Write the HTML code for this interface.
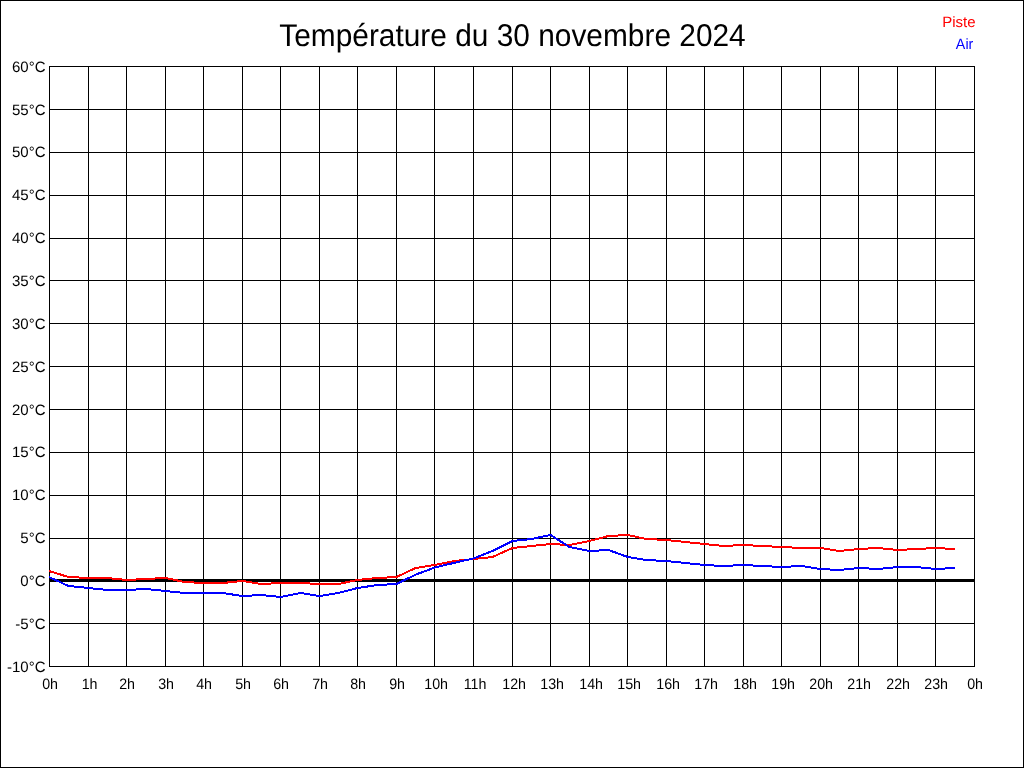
<!DOCTYPE html>
<html><head><meta charset="utf-8"><title>Température du 30 novembre 2024</title>
<style>
html,body{margin:0;padding:0;background:#fff;}
body{width:1024px;height:768px;overflow:hidden;}
svg{display:block;will-change:transform;}
text{font-family:"Liberation Sans",Arial,sans-serif;text-rendering:geometricPrecision;}
</style></head><body>
<svg width="1024" height="768" viewBox="0 0 1024 768">
<rect x="0" y="0" width="1024" height="768" fill="#fff"/>
<rect x="0.5" y="0.5" width="1023" height="767" fill="none" stroke="#000" stroke-width="1"/>
<text transform="translate(512.5,46) scale(0.979,1.03)" text-anchor="middle" font-size="30.5" fill="#000">Température du 30 novembre 2024</text>
<text transform="translate(975.6,27) scale(1,1)" text-anchor="end" font-size="15.0" fill="#f00">Piste</text>
<text transform="translate(973.3,49) scale(0.95,1)" text-anchor="end" font-size="15.0" fill="#00f">Air</text>
<g fill="#000" shape-rendering="crispEdges">
<rect x="49" y="66" width="926" height="1"/>
<rect x="49" y="109" width="926" height="1"/>
<rect x="49" y="152" width="926" height="1"/>
<rect x="49" y="195" width="926" height="1"/>
<rect x="49" y="238" width="926" height="1"/>
<rect x="49" y="280" width="926" height="1"/>
<rect x="49" y="323" width="926" height="1"/>
<rect x="49" y="366" width="926" height="1"/>
<rect x="49" y="409" width="926" height="1"/>
<rect x="49" y="452" width="926" height="1"/>
<rect x="49" y="495" width="926" height="1"/>
<rect x="49" y="538" width="926" height="1"/>
<rect x="49" y="623" width="926" height="1"/>
<rect x="49" y="666" width="926" height="1"/>
<rect x="49" y="66" width="1" height="601"/>
<rect x="88" y="66" width="1" height="601"/>
<rect x="126" y="66" width="1" height="601"/>
<rect x="165" y="66" width="1" height="601"/>
<rect x="203" y="66" width="1" height="601"/>
<rect x="242" y="66" width="1" height="601"/>
<rect x="280" y="66" width="1" height="601"/>
<rect x="319" y="66" width="1" height="601"/>
<rect x="357" y="66" width="1" height="601"/>
<rect x="396" y="66" width="1" height="601"/>
<rect x="434" y="66" width="1" height="601"/>
<rect x="473" y="66" width="1" height="601"/>
<rect x="512" y="66" width="1" height="601"/>
<rect x="550" y="66" width="1" height="601"/>
<rect x="589" y="66" width="1" height="601"/>
<rect x="627" y="66" width="1" height="601"/>
<rect x="666" y="66" width="1" height="601"/>
<rect x="704" y="66" width="1" height="601"/>
<rect x="743" y="66" width="1" height="601"/>
<rect x="781" y="66" width="1" height="601"/>
<rect x="820" y="66" width="1" height="601"/>
<rect x="858" y="66" width="1" height="601"/>
<rect x="897" y="66" width="1" height="601"/>
<rect x="935" y="66" width="1" height="601"/>
<rect x="974" y="66" width="1" height="601"/>
<rect x="49" y="579" width="926" height="3"/>
</g>
<g font-size="15" fill="#000">
<text transform="translate(45.5,71.6) scale(1.0,1.0)" text-anchor="end">60°C</text>
<text transform="translate(45.5,114.6) scale(1.0,1.0)" text-anchor="end">55°C</text>
<text transform="translate(45.5,156.6) scale(1.0,1.0)" text-anchor="end">50°C</text>
<text transform="translate(45.5,199.6) scale(1.0,1.0)" text-anchor="end">45°C</text>
<text transform="translate(45.5,242.6) scale(1.0,1.0)" text-anchor="end">40°C</text>
<text transform="translate(45.5,285.6) scale(1.0,1.0)" text-anchor="end">35°C</text>
<text transform="translate(45.5,328.6) scale(1.0,1.0)" text-anchor="end">30°C</text>
<text transform="translate(45.5,371.6) scale(1.0,1.0)" text-anchor="end">25°C</text>
<text transform="translate(45.5,414.6) scale(1.0,1.0)" text-anchor="end">20°C</text>
<text transform="translate(45.5,456.6) scale(1.0,1.0)" text-anchor="end">15°C</text>
<text transform="translate(45.5,499.6) scale(1.0,1.0)" text-anchor="end">10°C</text>
<text transform="translate(45.5,542.6) scale(1.0,1.0)" text-anchor="end">5°C</text>
<text transform="translate(45.5,585.6) scale(1.0,1.0)" text-anchor="end">0°C</text>
<text transform="translate(45.5,628.6) scale(1.0,1.0)" text-anchor="end">-5°C</text>
<text transform="translate(45.5,671.6) scale(1.0,1.0)" text-anchor="end">-10°C</text>
<text transform="translate(50.1,689) scale(0.95,1.0)" text-anchor="middle">0h</text>
<text transform="translate(89.6,689) scale(0.95,1.0)" text-anchor="middle">1h</text>
<text transform="translate(127.1,689) scale(0.95,1.0)" text-anchor="middle">2h</text>
<text transform="translate(166.1,689) scale(0.95,1.0)" text-anchor="middle">3h</text>
<text transform="translate(204.1,689) scale(0.95,1.0)" text-anchor="middle">4h</text>
<text transform="translate(243.1,689) scale(0.95,1.0)" text-anchor="middle">5h</text>
<text transform="translate(281.1,689) scale(0.95,1.0)" text-anchor="middle">6h</text>
<text transform="translate(320.1,689) scale(0.95,1.0)" text-anchor="middle">7h</text>
<text transform="translate(358.1,689) scale(0.95,1.0)" text-anchor="middle">8h</text>
<text transform="translate(397.1,689) scale(0.95,1.0)" text-anchor="middle">9h</text>
<text transform="translate(436.1,689) scale(0.95,1.0)" text-anchor="middle">10h</text>
<text transform="translate(475.1,689) scale(0.95,1.0)" text-anchor="middle">11h</text>
<text transform="translate(514.1,689) scale(0.95,1.0)" text-anchor="middle">12h</text>
<text transform="translate(552.1,689) scale(0.95,1.0)" text-anchor="middle">13h</text>
<text transform="translate(591.1,689) scale(0.95,1.0)" text-anchor="middle">14h</text>
<text transform="translate(629.1,689) scale(0.95,1.0)" text-anchor="middle">15h</text>
<text transform="translate(668.1,689) scale(0.95,1.0)" text-anchor="middle">16h</text>
<text transform="translate(706.1,689) scale(0.95,1.0)" text-anchor="middle">17h</text>
<text transform="translate(745.1,689) scale(0.95,1.0)" text-anchor="middle">18h</text>
<text transform="translate(783.1,689) scale(0.95,1.0)" text-anchor="middle">19h</text>
<text transform="translate(821.1,689) scale(0.95,1.0)" text-anchor="middle">20h</text>
<text transform="translate(859.1,689) scale(0.95,1.0)" text-anchor="middle">21h</text>
<text transform="translate(898.1,689) scale(0.95,1.0)" text-anchor="middle">22h</text>
<text transform="translate(936.1,689) scale(0.95,1.0)" text-anchor="middle">23h</text>
<text transform="translate(975.1,689) scale(0.95,1.0)" text-anchor="middle">0h</text>
</g>
<g fill="none" stroke-width="2" shape-rendering="crispEdges" stroke-linejoin="miter">
<polyline stroke="#f00" points="49,571 68.5,577 88.5,578 107.5,578 126.5,580 145.5,579 165.5,578 184.5,582 203.5,583 222.5,583 242.5,581 261.5,584 280.5,583 300.5,583 319.5,584 338.5,584 357.5,580 377.5,578 396.5,577 415.5,568 434.5,565 454.5,561 473.5,559 492.5,557 512.5,548 531.5,546 550.5,544 569.5,545 589.5,541 608.5,536 627.5,535 646.5,539 666.5,540 685.5,542 704.5,544 723.5,546 743.5,545 762.5,546 781.5,547 801.5,548 820.5,548 839.5,551 858.5,549 878.5,548 897.5,550 916.5,549 935.5,548 955,549"/>
<polyline stroke="#00f" points="49,577 68.5,586 88.5,588 107.5,590 126.5,590 145.5,589 165.5,591 184.5,593 203.5,593 222.5,593 242.5,596 261.5,595 280.5,597 300.5,593 319.5,596 338.5,593 357.5,588 377.5,585 396.5,584 415.5,574.7 434.5,567.6 454.5,562.8 473.5,558.4 492.5,551 512.5,541 531.5,539 550.5,535 569.5,547 589.5,551 608.5,550 627.5,556.9 646.5,560.1 666.5,561 685.5,563 704.5,565 723.5,566 743.5,565 762.5,566 781.5,567 801.5,566 820.5,569 839.5,570 858.5,568 878.5,569 897.5,567 916.5,567 935.5,569 955,568"/>
</g>
</svg>
</body></html>
